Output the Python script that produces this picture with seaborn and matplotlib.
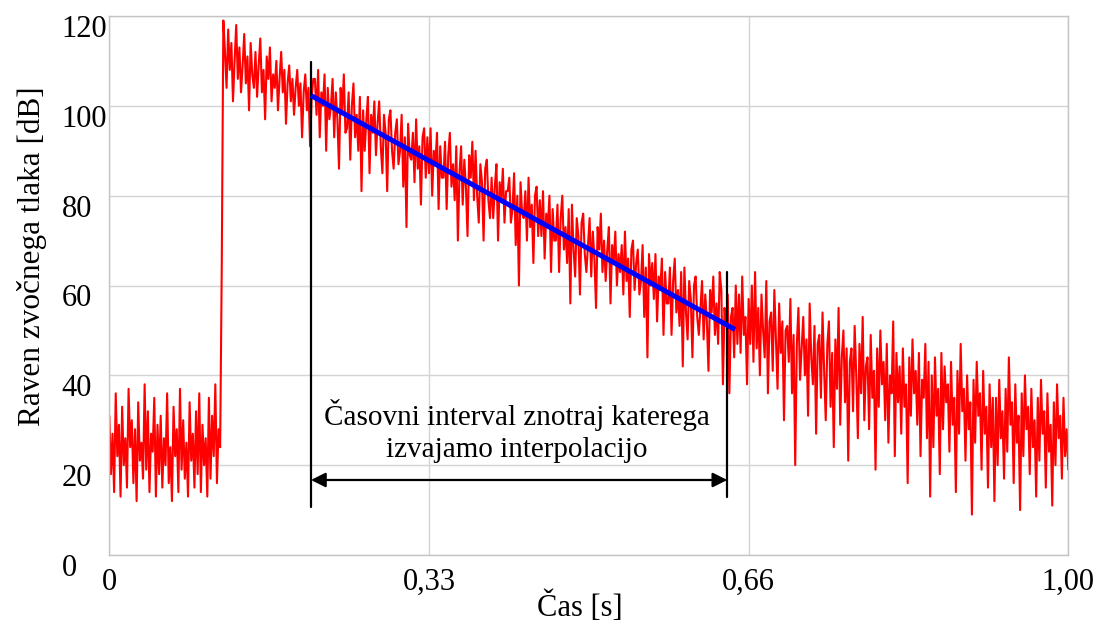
import numpy as np
import pandas as pd
import matplotlib
matplotlib.use("Agg")
import matplotlib.pyplot as plt
from matplotlib.transforms import ScaledTranslation
import seaborn as sns

# ---- data ----
floor_db = [31, 18, 27, 14, 36, 22, 29, 13, 33, 20, 26, 15, 37, 24, 30, 16, 28, 12, 34, 21,
            25, 17, 38, 19, 32, 14, 27, 23, 35, 13, 29, 18, 31, 15, 26, 20, 36, 16, 24, 12,
            33, 22, 28, 14, 37, 19, 30, 17, 25, 13, 34, 21, 27, 15, 32, 18, 36, 14, 29, 20,
            26, 13, 35, 17, 31, 22, 38, 16, 28, 24]
jump_db = [64, 119]
early_db = [112, 104, 117, 108, 114, 101, 110, 118, 106, 113, 103, 109, 116, 105, 111, 99, 114, 107, 104, 112,
            102, 109, 115, 103, 108, 97, 111, 106, 113, 101, 107, 104, 110, 99, 106, 112, 103, 108, 96, 105,
            109, 101, 106, 98, 104, 108, 100, 105, 93, 103, 107, 99, 104, 91, 102, 106]
fit_region_db = [106, 98, 108, 93, 103, 100, 107, 90, 104, 97,
                 100, 106, 93, 103, 97, 86, 104, 99, 107, 94,
                 95, 103, 88, 100, 105, 93, 98, 90, 102, 81,
                 99, 90, 97, 102, 85, 98, 94, 101, 89, 96,
                 101, 91, 85, 98, 94, 81, 97, 99, 90, 86,
                 94, 97, 87, 90, 98, 82, 93, 73, 96, 89,
                 88, 94, 83, 97, 86, 91, 78, 93, 95, 84,
                 93, 85, 95, 80, 90, 87, 94, 77, 91, 84,
                 84, 92, 77, 89, 94, 82, 87, 79, 91, 70,
                 85, 91, 78, 88, 82, 71, 89, 84, 92, 79,
                 90, 80, 74, 87, 83, 70, 86, 88, 79, 75,
                 84, 75, 82, 87, 70, 83, 79, 86, 74, 81,
                 81, 84, 74, 77, 85, 69, 80, 60, 83, 76,
                 75, 81, 70, 84, 73, 78, 65, 80, 82, 71,
                 79, 71, 81, 66, 76, 73, 80, 63, 77, 70,
                 70, 78, 63, 75, 80, 68, 73, 65, 77, 56,
                 78, 68, 62, 75, 71, 58, 74, 76, 67, 63,
                 69, 75, 62, 72, 66, 55, 73, 68, 76, 63,
                 70, 61, 68, 73, 56, 69, 65, 72, 60, 67,
                 63, 69, 58, 72, 61, 66, 53, 68, 70, 59,
                 65, 68, 58, 61, 69, 53, 64, 44, 67, 60,
                 65, 57, 67, 52, 62, 59, 66, 49, 63, 56,
                 56, 64, 49, 61, 66, 54, 59, 51, 63, 42,
                 64, 54, 48, 61, 57, 44, 60, 62, 53, 49,
                 55, 61, 48, 58, 52, 41, 59, 54, 62, 49,
                 56, 47, 63, 59, 38, 55, 51, 58, 36, 53,
                 55, 44, 60, 47]
tail_db = [58, 45, 62, 49, 53, 38, 57, 47, 60, 43,
           63, 46, 55, 40, 58, 50, 44, 61, 36, 52,
           54, 41, 59, 48, 37, 56, 45, 52, 30, 50,
           51, 43, 57, 36, 49, 20, 47, 55, 39, 46,
           53, 40, 48, 31, 56, 44, 38, 51, 27, 47,
           49, 35, 54, 41, 30, 47, 52, 33, 45, 24,
           48, 37, 55, 29, 44, 50, 34, 46, 21, 43,
           46, 32, 51, 40, 26, 47, 36, 53, 30, 42,
           44, 28, 49, 35, 41, 19, 46, 33, 50, 38,
           43, 30, 47, 25, 40, 36, 52, 22, 45, 34,
           42, 27, 46, 33, 38, 16, 44, 31, 48, 36,
           41, 29, 45, 22, 39, 35, 47, 26, 43, 13,
           40, 24, 44, 31, 37, 18, 45, 28, 42, 34,
           38, 23, 43, 29, 35, 14, 41, 27, 47, 32,
           37, 21, 40, 28, 34, 9, 39, 25, 43, 31,
           36, 19, 41, 27, 33, 15, 38, 24, 35, 12,
           35, 20, 39, 26, 32, 17, 37, 23, 44, 29,
           34, 16, 38, 25, 31, 10, 36, 22, 40, 28,
           33, 18, 37, 24, 30, 13, 35, 21, 39, 27,
           32, 15, 36, 23, 29, 11, 34, 20, 38, 26,
           31, 17, 35, 22, 28, 19]

fit_t = [0.2103, 0.6525]
fit_db = [102.3, 50.2]

interval_t = [0.2103, 0.6444]
interval_top_db = [109.8, 63.0]
interval_bottom_db = [10.6, 12.9]
arrow_db = 16.7

x_ticks = [0, 1 / 3, 2 / 3, 1.0]
x_tick_labels = ["0", "0,33", "0,66", "1,00"]
y_ticks = [0, 20, 40, 60, 80, 100, 120]
y_tick_labels = ["0", "20", "40", "60", "80", "100", "120"]

annotation = "Časovni interval znotraj katerega\nizvajamo interpolacijo"
x_label = "Čas [s]"
y_label = "Raven zvočnega tlaka [dB]"

# ---- build table ----
level = floor_db + jump_db + early_db + fit_region_db + tail_db
df = pd.DataFrame({"t": np.linspace(0.0, 1.0, len(level)), "db": level})
fit_df = pd.DataFrame({"t": fit_t, "db": fit_db})

# ---- style ----
sns.set_theme(style="white")
plt.rcParams["font.family"] = ["Liberation Serif", "DejaVu Serif"]
plt.rcParams["text.color"] = "black"
plt.rcParams["axes.labelcolor"] = "black"

fig = plt.figure(figsize=(11, 6.28), dpi=100)
ax = fig.add_axes([109.3 / 1100, 73 / 628, 959 / 1100, 539 / 628])

sns.lineplot(data=df, x="t", y="db", ax=ax, color="#ff0000", linewidth=1.5,
             estimator=None, sort=False, zorder=2)
sns.lineplot(data=fit_df, x="t", y="db", ax=ax, color="#0000ff", linewidth=3.6,
             estimator=None, zorder=4, solid_capstyle="butt")

# interval markers
for t, top, bot in zip(interval_t, interval_top_db, interval_bottom_db):
    ax.plot([t, t], [bot, top], color="black", linewidth=1.6, zorder=3)
ax.annotate("", xy=(interval_t[0], arrow_db), xytext=(interval_t[1], arrow_db),
            arrowprops=dict(arrowstyle="<|-|>", color="black", lw=1.6,
                            mutation_scale=22, shrinkA=0, shrinkB=0),
            zorder=5)
ax.text(0.4248, 27.6, annotation, ha="center", va="center", fontsize=21,
        linespacing=1.3, color="black", zorder=6)

ax.set_xlim(0, 1)
ax.set_ylim(0, 120)
ax.set_xticks(x_ticks)
ax.set_xticklabels(x_tick_labels)
ax.set_yticks(y_ticks)
ax.set_yticklabels(y_tick_labels)
ax.tick_params(axis="both", length=0, labelsize=22, colors="black")
ax.tick_params(axis="x", pad=9)
ax.tick_params(axis="y", pad=34.5)

for lab in ax.get_yticklabels():
    lab.set_horizontalalignment("left")
    lab.set_transform(lab.get_transform() + ScaledTranslation(0, -0.10, fig.dpi_scale_trans))

ax.grid(True, color="#d4d4d4", linewidth=1.0, zorder=0)
ax.set_axisbelow(True)
for sp in ax.spines.values():
    sp.set_visible(True)
    sp.set_color("#c4c4c4")
    sp.set_linewidth(1.0)

ax.set_xlabel(x_label, fontsize=22, va="center", ha="center", color="black")
ax.xaxis.set_label_coords(0.491, (555 - 607) / 539)
ax.set_ylabel(y_label, fontsize=22.5, va="center", ha="center", color="black")
ax.yaxis.set_label_coords((32 - 109.3) / 959, (555 - 256) / 539)

fig.savefig("out.png", dpi=100)
